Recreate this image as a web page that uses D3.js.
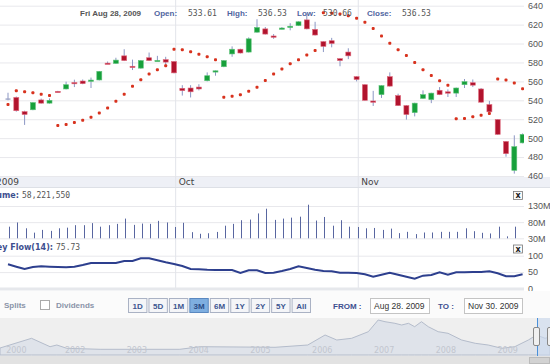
<!DOCTYPE html>
<html>
<head>
<meta charset="utf-8">
<script src="https://cdn.jsdelivr.net/npm/d3@7"></script>
<style>
  body { margin: 0; background: #fff; }
  svg { display: block; }
</style>
</head>
<body>
<div id="chart"></div>
<script>
// OHLC per trading day (index 0 = first visible day)
const opens  = [542,543,528,530,540.4,537,549.5,552,558.8,560.4,560.6,561.5,579.3,579,587,576,574,585,581.7,583,581,552.7,553,554,560.7,570.7,575.5,589,594,591,612,615.5,608,615.6,617.7,619,625,615,602,603,584,591,565,556.5,539.3,546,565,545,534.4,527,542,540.7,550.6,549,547.6,556.5,558.6,552,535.5,519.7,496.5,466,495];
const highs  = [548,544,529,538,541.8,542,550,559.7,561.8,562,564,571,581,585,594,583,582.5,590.5,587,586,581.5,556,556,557,569.5,571.5,582.5,597,594.5,606.5,625.7,617.5,610,617.5,621.5,623.5,631,623,602.5,606,584.5,595,565.5,557,550,556,569.5,547,535,537.5,550.5,548,554,551.5,553.5,562.5,562,553,539.4,520,497,503,505];
const lows   = [540,528,514,529.5,536.5,536.5,548.5,551.5,554,557,553,561,578.5,578.5,581.5,572,573.5,581.5,581.5,576,568.5,545,543,550.5,560,566,575,586,589.5,590.5,611.5,609.5,605,615,614,618.5,615,608.5,591,596,576,583.5,560,539.5,534,542.5,554.5,534,519.6,523,541.5,537,545.5,543.5,543.5,553,554,537.5,525,503.5,480.4,462.5,494.5];
const closes = [542,529,525,537.6,537,540,549,556.5,557.8,557.6,561.4,570.6,579,582.5,582,575,582,582,582.2,580.4,569,550.2,549,552,566,571.2,582,594,590,605,617,610,607,616.4,618.3,623,615.5,609,597,600,582,587,562,540,538.8,555.5,555,534.4,525,537,546,547.6,546,547.5,553,559.7,556,538,527.8,504,483.6,491,504];

// parabolic SAR dots
const sar = [535.5,550,549,548,546.3,545,513.4,514.4,516.5,519,522,526.7,532,539,546.3,554.8,561.8,567.8,572.3,576.5,594,593.4,591.2,588.8,586,583,543.3,544.3,546,549.5,553.7,561,567.8,573,578.6,583,587.8,592.6,632.6,632,631.3,629.5,626.7,622.5,616,608,600.4,593.4,587.4,580,572.3,566.3,560.7,555.8,520.4,520.7,522.5,524.2,526,562.5,561.5,558.3,552.3];

// volume in millions
const volumes = [66,79,61,47.5,56,53,61,63,70.6,70.6,77,66,70.6,74.7,91,71.6,75.6,74.7,84,79,65,78,49,44,45.6,49.7,69,74.7,86,88,107,121.6,87,91,94,97,134,85,96,69,86,66,65,61,62,56,60,46,50,43,48,48,50,50,50,61,52,47,45,66,36,66,60];

// money flow (14)
const moneyFlow = [73.7,66.5,59.5,65.5,67.6,66.5,65.5,64.5,66.5,71.6,77.7,77.7,77.7,77.7,83.8,83.8,92,92,86,80,74.7,68.6,59.5,59,57.4,56.4,56.4,56.4,47.3,55.4,55.4,47.3,48,53.4,59.5,67.6,62.5,57.4,53.4,52.4,48.3,48.3,47.3,43.2,36.1,42.2,48.3,42.2,36.1,30,39.1,41.2,49.3,42.2,49.3,49.3,50.3,50.3,52.4,46.3,37.2,37.2,43.2];

const priceTicks = [460,480,500,520,540,560,580,600,620,640];
const volTicks = [30,80,130];
const volTickLabels = ["30M","80M","130M"];
const mfTicks = [0,50,100];
const monthTicks = [-4.2, 20.2, 42.2];
const monthLabels = ["Sep 2009","Oct","Nov"];

const header = [
  ["Fri Aug 28, 2009", "date"],
  ["Open:", "lab"], ["533.61", "val"],
  ["High:", "lab"], ["536.53", "val"],
  ["Low:", "lab"], ["530.66", "val"],
  ["Close:", "lab"], ["536.53", "val"]
];
const headerX = [80,154,188,227,258,297,323,367,402];

const rangeButtons = ["1D","5D","1M","3M","6M","1Y","2Y","5Y","All"];
const selectedRange = "3M";

// navigator (long history overview)
const navYears  = [2000.95,2001.46,2001.76,2001.87,2002.03,2002.57,2003.86,2004.19,2005.4,2005.93,2006.21,2006.4,2006.64,2006.91,2007.07,2007.18,2007.34,2007.45,2007.56,2007.66,2007.77,2007.88,2008.04,2008.2,2008.42,2008.64,2008.85,2009.07,2009.28,2009.5,2009.63,2009.77,2009.85];
const navValues = [140,334,166,200,134,114,114,166,154,200,400,300,334,466,700,666,634,600,634,566,666,566,466,434,300,234,200,134,166,300,400,334,360];
const navTickYears = [2001.05,2002,2003,2004,2005,2006,2007,2008,2009];
const navTickLabels = ["2000","2002","2003","2004","2005","2006","2007","2008","2009"];

const W = 550, H = 364;
const plotRight = 524;
const sans = "'Liberation Sans', Arial, sans-serif";
const verdana = "'DejaVu Sans', Verdana, sans-serif";
const mono = "'DejaVu Sans Mono', monospace";

const svg = d3.select("#chart").append("svg")
    .attr("width", W).attr("height", H)
    .style("font-family", verdana);

svg.append("defs").append("clipPath").attr("id", "plotclip")
  .append("rect").attr("x", 0).attr("y", 0).attr("width", plotRight).attr("height", 300);

// scales
const x = d3.scaleLinear().domain([0, 62]).range([8, 522.6]);
const y = d3.scaleLinear().domain([460, 640]).range([176, 5.7]);
const yVol = d3.scaleLinear().domain([30, 130]).range([238.3, 206]);
const yMf = d3.scaleLinear().domain([0, 100]).range([288.5, 255.7]);

// x axis band
svg.append("rect").attr("x", 0).attr("y", 177).attr("width", W).attr("height", 10).attr("fill", "#eef0f6");

function rightAxis(scale, ticks, fmt) {
    const g = svg.append("g")
        .attr("transform", `translate(${plotRight},0)`)
        .call(d3.axisRight(scale).tickValues(ticks).tickSize(-plotRight).tickPadding(4).tickFormat(fmt));
    g.select(".domain").remove();
    g.selectAll("line").attr("stroke", "#e8e8ec");
    g.selectAll("text").attr("fill", "#555").style("font-size", "9px");
    return g;
}
rightAxis(y, priceTicks, d => d);
rightAxis(yVol, volTicks, (d, i) => volTickLabels[i]);
rightAxis(yMf, mfTicks, d => d);

// month grid lines + labels
svg.append("g").selectAll("line")
    .data(monthTicks)
    .join("line")
    .attr("x1", d => x(d)).attr("x2", d => x(d))
    .attr("y1", 0).attr("y2", 290)
    .attr("stroke", "#e2e4ea");
svg.append("g").selectAll("text")
    .data(monthTicks)
    .join("text")
    .attr("x", d => x(d) + 3)
    .attr("y", 185)
    .attr("fill", "#444")
    .style("font-size", "9px")
    .text((d, i) => monthLabels[i]);

// separators
svg.append("line").attr("x1", 0).attr("x2", W).attr("y1", 187.5).attr("y2", 187.5).attr("stroke", "#dde0e6");
svg.append("rect").attr("x", 0).attr("y", 287.5).attr("width", plotRight).attr("height", 3).attr("fill", "#e6e8ec");

const plot = svg.append("g").attr("clip-path", "url(#plotclip)");

// candles
const idx = d3.range(opens.length);
const upFill = "#17a03b", downFill = "#b1132d";

plot.append("g").selectAll("line")
    .data(idx)
    .join("line")
    .attr("x1", i => x(i)).attr("x2", i => x(i))
    .attr("y1", i => y(highs[i])).attr("y2", i => y(lows[i]))
    .attr("stroke", "#8c97c4")
    .attr("stroke-width", 1);

plot.append("g").selectAll("rect")
    .data(idx)
    .join("rect")
    .attr("x", i => x(i) - 2.5)
    .attr("width", 5)
    .attr("y", i => y(Math.max(opens[i], closes[i])))
    .attr("height", i => Math.max(1.3, Math.abs(y(opens[i]) - y(closes[i]))))
    .attr("fill", i => {
        if (Math.abs(opens[i] - closes[i]) < 0.1) return "#9aa2c4";
        return closes[i] > opens[i] ? upFill : downFill;
    })
    .attr("stroke", i => {
        if (Math.abs(opens[i] - closes[i]) < 0.1) return "none";
        return closes[i] > opens[i] ? "#5fc27a" : "#e06a7c";
    })
    .attr("stroke-width", 0.6);

// SAR dots
plot.append("g").selectAll("rect")
    .data(idx)
    .join("rect")
    .attr("x", i => x(i) - 1.5)
    .attr("y", i => y(sar[i]) - 1.5)
    .attr("width", 3).attr("height", 3)
    .attr("rx", 1)
    .attr("fill", "#d8321e");

// volume bars
plot.append("g").selectAll("line")
    .data(idx)
    .join("line")
    .attr("x1", i => Math.round(x(i) + 1) + 0.5)
    .attr("x2", i => Math.round(x(i) + 1) + 0.5)
    .attr("y1", yVol(30))
    .attr("y2", i => yVol(volumes[i]))
    .attr("stroke", "#5866a0")
    .attr("stroke-width", 1);

// money flow line
plot.append("path")
    .datum(idx)
    .attr("fill", "none")
    .attr("stroke", "#2d3f8e")
    .attr("stroke-width", 2)
    .attr("d", d3.line().x(i => x(i)).y(i => yMf(moneyFlow[i])));

// header
svg.append("g").selectAll("text")
    .data(header)
    .join("text")
    .attr("x", (d, i) => headerX[i])
    .attr("y", 16)
    .style("font-size", "8px")
    .style("font-family", d => d[1] === "val" ? mono : sans)
    .style("font-weight", d => d[1] === "val" ? "normal" : "bold")
    .attr("fill", d => d[1] === "lab" ? "#5065a0" : "#555")
    .text(d => d[0]);

// panel labels (label right-aligned against its value, partly off the left edge)
function panelLabel(yPos, valueX, label, value) {
    svg.append("text").attr("x", valueX - 3).attr("y", yPos).attr("text-anchor", "end")
        .style("font-size", "8px").style("font-family", verdana).style("font-weight", "bold")
        .attr("fill", "#3d4f8f").text(label);
    svg.append("text").attr("x", valueX).attr("y", yPos)
        .style("font-size", "8px").style("font-family", mono)
        .attr("fill", "#555").text(value);
}
panelLabel(198, 22, "Volume:", "58,221,550");
panelLabel(250, 56, "Money Flow(14):", "75.73");

// close buttons
[191.5, 245].forEach(yy => {
    svg.append("rect").attr("x", 513.5).attr("y", yy).attr("width", 9).attr("height", 8)
        .attr("fill", "#fafafa").attr("stroke", "#777").attr("stroke-width", 0.8);
    svg.append("text").attr("x", 518).attr("y", yy + 6.5).attr("text-anchor", "middle")
        .style("font-size", "8px").style("font-weight", "bold").attr("fill", "#222").text("x");
});

// controls row
const ctrl = svg.append("g").style("font-family", sans);
ctrl.append("rect").attr("x", 0).attr("y", 291).attr("width", W).attr("height", 27).attr("fill", "#fbfbfb");
ctrl.append("text").attr("x", 4).attr("y", 308).style("font-size", "8px").style("font-weight", "bold")
    .attr("fill", "#8a93a8").text("Splits");
ctrl.append("rect").attr("x", 40.5).attr("y", 300.5).attr("width", 9).attr("height", 9)
    .attr("fill", "#fff").attr("stroke", "#aaa");
ctrl.append("text").attr("x", 56).attr("y", 308).style("font-size", "8px").style("font-weight", "bold")
    .attr("fill", "#8a93a8").text("Dividends");

const btnX = d3.scaleBand().domain(rangeButtons).range([128, 310]).paddingInner(0.1);
const btn = ctrl.selectAll("g.btn").data(rangeButtons).join("g").attr("class", "btn");
btn.append("rect")
    .attr("x", d => btnX(d) + 0.5).attr("y", 298.5)
    .attr("width", btnX.bandwidth()).attr("height", 14)
    .attr("fill", d => d === selectedRange ? "#7eaee0" : "#f4f5f8")
    .attr("stroke", d => d === selectedRange ? "#5a88c0" : "#aab2c4");
btn.append("text")
    .attr("x", d => btnX(d) + btnX.bandwidth() / 2 + 0.5).attr("y", 308.5)
    .attr("text-anchor", "middle")
    .style("font-size", "8px").style("font-weight", "bold")
    .attr("fill", d => d === selectedRange ? "#2a4c86" : "#3c5590")
    .text(d => d);

ctrl.append("text").attr("x", 333).attr("y", 309).style("font-size", "8px").style("font-weight", "bold")
    .attr("fill", "#3d4f8f").text("FROM :");
ctrl.append("rect").attr("x", 370.5).attr("y", 298.5).attr("width", 59).attr("height", 15)
    .attr("fill", "#fff").attr("stroke", "#c4c4c4");
ctrl.append("text").attr("x", 374).attr("y", 309).style("font-size", "8.5px").attr("fill", "#333").text("Aug 28. 2009");
ctrl.append("text").attr("x", 438).attr("y", 309).style("font-size", "8px").style("font-weight", "bold")
    .attr("fill", "#3d4f8f").text("TO :");
ctrl.append("rect").attr("x", 464.5).attr("y", 298.5).attr("width", 58).attr("height", 15)
    .attr("fill", "#fff").attr("stroke", "#c4c4c4");
ctrl.append("text").attr("x", 468).attr("y", 309).style("font-size", "8.5px").attr("fill", "#333").text("Nov 30. 2009");

// navigator
const nav = svg.append("g");
nav.append("rect").attr("x", 0).attr("y", 318).attr("width", W).attr("height", 38).attr("fill", "#efefef");
const navX = d3.scaleLinear().domain([2000.95, 2009.85]).range([0, 550]);
const navY = d3.scaleLinear().domain([0, 700]).range([355, 320]);
nav.append("path")
    .datum(navYears)
    .attr("fill", "#dfe3ea")
    .attr("stroke", "#b4bccb")
    .attr("stroke-width", 1)
    .attr("d", d3.area().x(d => navX(d)).y0(355).y1((d, i) => navY(navValues[i])));
nav.selectAll("text.yr")
    .data(navTickYears)
    .join("text")
    .attr("class", "yr")
    .attr("x", d => navX(d))
    .attr("y", 353)
    .style("font-size", "8px")
    .attr("fill", "#c2c6cf")
    .text((d, i) => navTickLabels[i]);
// selected window
nav.append("rect").attr("x", 537).attr("y", 318).attr("width", 13).attr("height", 38).attr("fill", "#c9d8ee").attr("opacity", 0.6);
nav.append("line").attr("x1", 537.5).attr("x2", 537.5).attr("y1", 318).attr("y2", 356).attr("stroke", "#4a90d9");
nav.append("rect").attr("x", 533.5).attr("y", 327.5).attr("width", 6).attr("height", 18).attr("rx", 1.5)
    .attr("fill", "#f0f0f0").attr("stroke", "#888");
nav.append("rect").attr("x", 547.5).attr("y", 327.5).attr("width", 6).attr("height", 18).attr("rx", 1.5)
    .attr("fill", "#f0f0f0").attr("stroke", "#888");
// scrollbar
nav.append("rect").attr("x", 0).attr("y", 356).attr("width", W).attr("height", 8).attr("fill", "#e2e2e2");
nav.append("rect").attr("x", 529.5).attr("y", 357.5).attr("width", 20).attr("height", 6).attr("fill", "#d2d2d2").attr("stroke", "#bbb");
</script>
</body>
</html>
